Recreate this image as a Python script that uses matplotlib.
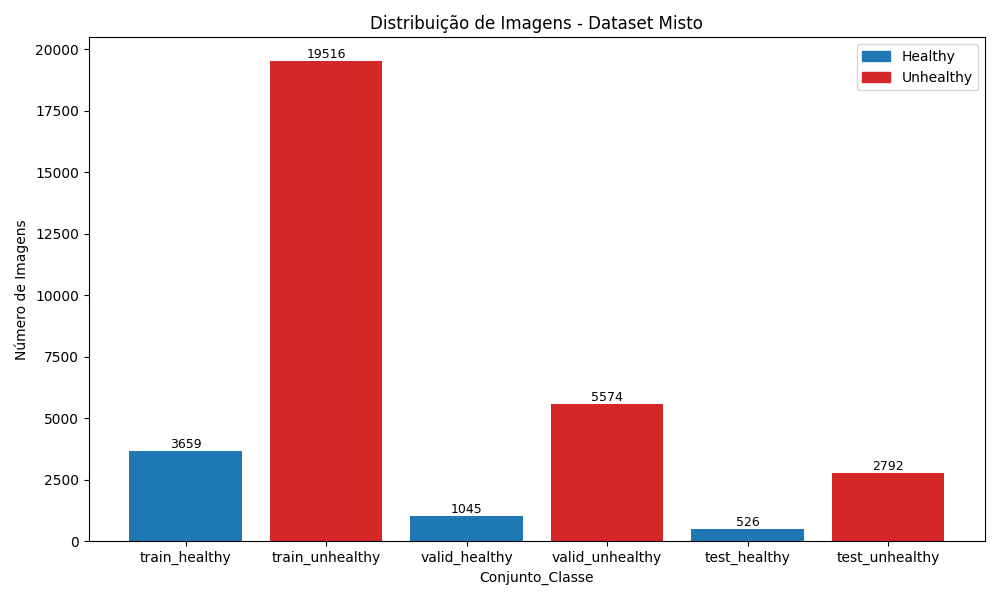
import matplotlib
matplotlib.use("Agg")
import matplotlib.pyplot as plt
from matplotlib.patches import Patch

categories = ["train_healthy", "train_unhealthy", "valid_healthy", "valid_unhealthy", "test_healthy", "test_unhealthy"]
values = [3659, 19516, 1045, 5574, 526, 2792]
colors = ["#1f77b4" if "_healthy" in c else "#d62728" for c in categories]

fig, ax = plt.subplots(figsize=(10, 6), dpi=100)
bars = ax.bar(categories, values, color=colors)
for b, v in zip(bars, values):
    ax.text(b.get_x() + b.get_width() / 2, v, str(v), ha="center", va="bottom", fontsize=9)
ax.set_title("Distribuição de Imagens - Dataset Misto")
ax.set_xlabel("Conjunto_Classe")
ax.set_ylabel("Número de Imagens")
ax.legend(handles=[Patch(color="#1f77b4", label="Healthy"), Patch(color="#d62728", label="Unhealthy")], loc="upper right")
fig.tight_layout()
fig.savefig("out.png")
